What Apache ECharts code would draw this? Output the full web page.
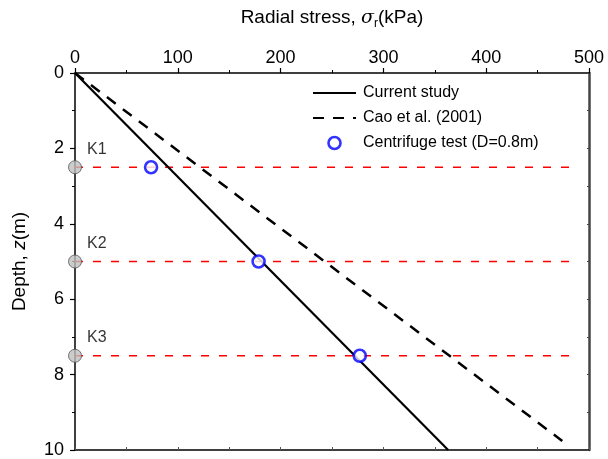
<!DOCTYPE html>
<html><head><meta charset="utf-8">
<script src="https://cdn.jsdelivr.net/npm/echarts@6/dist/echarts.min.js"></script>
<style>html,body{margin:0;padding:0;background:#fff}#c{width:608px;height:459px}</style>
</head><body><div id="c"></div>
<script>
// Data
const xTicks = [0, 100, 200, 300, 400, 500];
const yTicks = [0, 2, 4, 6, 8, 10];
const currentStress = [0, 363];
const currentDepth = [0, 10];
const caoStress = [0, 474];
const caoDepth = [0, 9.76];
const testStress = [74, 178.6, 277];
const testDepth = [2.5, 5, 7.5];
const sensorNames = ['K1', 'K2', 'K3'];
const sensorDepth = [2.5, 5, 7.5];
const sensorLineEnd = 488;

const FONT = 'Liberation Sans, Arial, sans-serif';
const chart = echarts.init(document.getElementById('c'));

const pairs = (xs, ys) => xs.map((x, i) => [x, ys[i]]);

const series = [
  {
    name: 'Current study', type: 'line', xAxisIndex: 0, yAxisIndex: 0,
    data: pairs(currentStress, currentDepth), symbol: 'none',
    lineStyle: { color: '#000', width: 2.2 }, itemStyle: { color: '#000' }, z: 3
  },
  {
    name: 'Cao et al. (2001)', type: 'line', xAxisIndex: 0, yAxisIndex: 0,
    data: pairs(caoStress, caoDepth), symbol: 'none',
    lineStyle: { color: '#000', width: 2.5, type: [11, 9] }, itemStyle: { color: '#000' }, z: 3
  },
  {
    name: 'Centrifuge test (D=0.8m)', type: 'scatter', xAxisIndex: 0, yAxisIndex: 0,
    data: pairs(testStress, testDepth), symbol: 'circle', symbolSize: 12,
    itemStyle: { color: '#fff', borderColor: '#0000ff', borderWidth: 2.6 }, z: 5
  }
];
sensorDepth.forEach((d, i) => {
  series.push({
    name: 'ref' + i, type: 'line', xAxisIndex: 0, yAxisIndex: 0,
    data: [[0, d], [sensorLineEnd, d]], symbol: 'none', silent: true,
    lineStyle: { color: '#ff0000', width: 1.6, type: [8, 10] }, z: 2
  });
});
series.push({
  name: 'sensors', type: 'scatter', xAxisIndex: 0, yAxisIndex: 0, clip: false,
  data: sensorDepth.map((d, i) => ({ value: [0, d], name: sensorNames[i] })),
  symbol: 'circle', symbolSize: 13,
  itemStyle: { color: '#bfbfbf', borderColor: '#555', borderWidth: 1 },
  label: { show: true, position: 'right', offset: [0, -18], formatter: p => p.name,
    fontFamily: FONT, fontSize: 16, color: '#000' },
  z: 6
});
// invisible anchor so the mirrored axes (bottom/right) are rendered
series.push({
  name: 'mirror', type: 'line', xAxisIndex: 1, yAxisIndex: 1,
  data: [[0, 0]], symbol: 'none', silent: true, lineStyle: { opacity: 0 }
});

chart.setOption({
  animation: false,
  backgroundColor: '#fff',
  grid: { left: 75, top: 73, right: 19, bottom: 7, containLabel: false },
  legend: {
    data: [
      { name: 'Current study', itemStyle: { opacity: 0 } },
      { name: 'Cao et al. (2001)', itemStyle: { opacity: 0 } },
      { name: 'Centrifuge test (D=0.8m)', icon: 'circle', itemStyle: { color: '#fff', borderColor: '#0000ff', borderWidth: 2.6 } }
    ],
    orient: 'vertical', left: 312, top: 85, padding: 0, itemWidth: 43, itemHeight: 12, itemGap: 9,
    textStyle: { fontFamily: FONT, fontSize: 16, color: '#000', padding: [0, 0, 0, 2] }
  },
  xAxis: [
    {
      type: 'value', position: 'top', min: 0, max: 500, interval: 100,
      name: 'Radial stress, {i|σ}{s|r}(kPa)', nameLocation: 'middle', nameGap: 43,
      nameTextStyle: { fontFamily: FONT, fontSize: 19, color: '#000',
        rich: { i: { fontFamily: 'DejaVu Serif, serif', fontStyle: 'italic', fontSize: 19 },
                s: { fontFamily: FONT, fontSize: 12, padding: [12, 0, 0, 0] } } },
      axisLine: { show: true, onZero: false, lineStyle: { color: '#000', width: 1.5 } },
      axisTick: { show: true, inside: false, length: 5, lineStyle: { color: '#000', width: 1.2 } },
      minorTick: { show: true, splitNumber: 2, length: 3, lineStyle: { color: '#000', width: 1 } },
      axisLabel: { fontFamily: FONT, fontSize: 18, color: '#000', margin: 6,
        formatter: v => xTicks.includes(v) ? String(v) : '' },
      splitLine: { show: false }
    },
    {
      type: 'value', position: 'bottom', min: 0, max: 500, interval: 50,
      axisLine: { show: true, onZero: false, lineStyle: { color: '#000', width: 1.5 } },
      axisTick: { show: true, inside: true, length: 3, lineStyle: { color: '#555', width: 1 } },
      axisLabel: { show: false }, splitLine: { show: false }
    }
  ],
  yAxis: [
    {
      type: 'value', inverse: true, min: 0, max: 10, interval: 2, position: 'left',
      name: 'Depth, {i|z}(m)', nameLocation: 'middle', nameGap: 46, nameRotate: 90,
      nameTextStyle: { fontFamily: FONT, fontSize: 19, color: '#000',
        rich: { i: { fontFamily: FONT, fontStyle: 'italic', fontSize: 19 } } },
      axisLine: { show: true, onZero: false, lineStyle: { color: '#000', width: 1.5 } },
      axisTick: { show: true, inside: false, length: 5, lineStyle: { color: '#000', width: 1.2 } },
      minorTick: { show: true, splitNumber: 2, length: 3, lineStyle: { color: '#000', width: 1 } },
      axisLabel: { fontFamily: FONT, fontSize: 18, color: '#000', margin: 11,
        formatter: v => yTicks.includes(v) ? String(v) : '' },
      splitLine: { show: false }
    },
    {
      type: 'value', inverse: true, min: 0, max: 10, interval: 1, position: 'right',
      axisLine: { show: true, onZero: false, lineStyle: { color: '#444', width: 2.5 } },
      axisTick: { show: true, inside: true, length: 2, lineStyle: { color: '#444', width: 1 } },
      axisLabel: { show: false }, splitLine: { show: false }
    }
  ],
  series: series
});
</script></body></html>
